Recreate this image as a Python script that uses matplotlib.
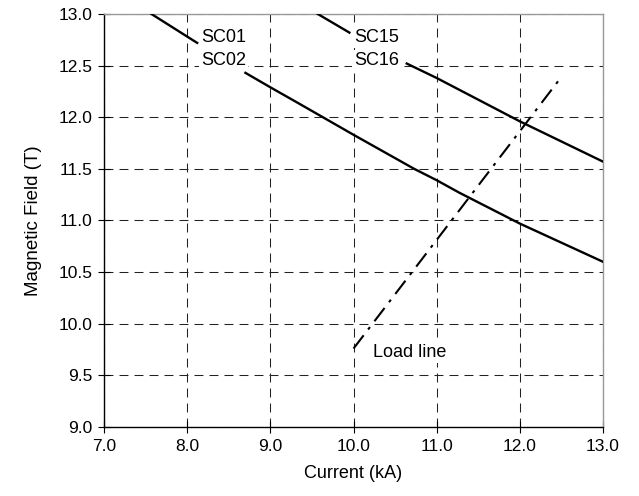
import numpy as np
import matplotlib.pyplot as plt
from matplotlib.ticker import FormatStrFormatter

plt.rcParams['font.family'] = ['Liberation Sans', 'DejaVu Sans']

# SC01 / SC02 critical curve (gap where the label sits)
i_sc01 = [7.57, 8.12, np.nan, 8.70, 9.0, 9.35, 10.0, 10.73, 11.0, 11.27, 12.0, 13.0]
b_sc01 = [13.0, 12.72, np.nan, 12.43, 12.29, 12.13, 11.83, 11.50, 11.39, 11.27, 10.97, 10.60]

# SC15 / SC16 critical curve
i_sc15 = [9.57, 9.95, np.nan, 10.64, 11.0, 12.0, 13.0]
b_sc15 = [13.0, 12.82, np.nan, 12.52, 12.38, 11.96, 11.57]

# load line
i_load = [10.0, 12.48]
b_load = [9.76, 12.37]

x_ticks = [7.0, 8.0, 9.0, 10.0, 11.0, 12.0, 13.0]
y_ticks = [9.0, 9.5, 10.0, 10.5, 11.0, 11.5, 12.0, 12.5, 13.0]

fig = plt.figure(figsize=(6.39, 4.96), dpi=100)
ax = fig.add_axes([0.1628, 0.1391, 0.7809, 0.8327])

ax.plot(i_sc01, b_sc01, color='black', lw=1.7, zorder=3)
ax.plot(i_sc15, b_sc15, color='black', lw=1.7, zorder=3)
ax.plot(i_load, b_load, color='black', lw=1.5,
        linestyle=(0, (8, 3.5, 1.5, 3.5)), zorder=3)

ax.set_xlim(7, 13)
ax.set_ylim(9, 13)
ax.set_xticks(x_ticks)
ax.set_yticks(y_ticks)
ax.xaxis.set_major_formatter(FormatStrFormatter('%.1f'))
ax.yaxis.set_major_formatter(FormatStrFormatter('%.1f'))
ax.tick_params(direction='inout', length=9, width=0.8, labelsize=12.5,
               pad=4, colors='black')

ax.grid(True, color='#222222', lw=0.75, linestyle=(0, (8.6, 5.8)))
ax.set_axisbelow(True)

for s in ['left', 'bottom']:
    ax.spines[s].set_color('black')
    ax.spines[s].set_linewidth(1.0)
for s in ['top', 'right']:
    ax.spines[s].set_color('#999999')
    ax.spines[s].set_linewidth(1.0)

box = dict(facecolor='white', edgecolor='none', pad=1.5)
ax.text(8.17, 12.726, 'SC01', fontsize=13, va='baseline', bbox=box, zorder=4)
ax.text(8.17, 12.506, 'SC02', fontsize=13, va='baseline', bbox=box, zorder=4)
ax.text(10.01, 12.726, 'SC15', fontsize=13, va='baseline', bbox=box, zorder=4)
ax.text(10.01, 12.506, 'SC16', fontsize=13, va='baseline', bbox=box, zorder=4)
ax.text(10.24, 9.677, 'Load line', fontsize=13, va='baseline', bbox=box, zorder=4)

ax.set_xlabel('Current (kA)', fontsize=13, labelpad=8)
ax.set_ylabel('Magnetic Field (T)', fontsize=13.5, labelpad=12)

fig.savefig('out.png', dpi=100)
